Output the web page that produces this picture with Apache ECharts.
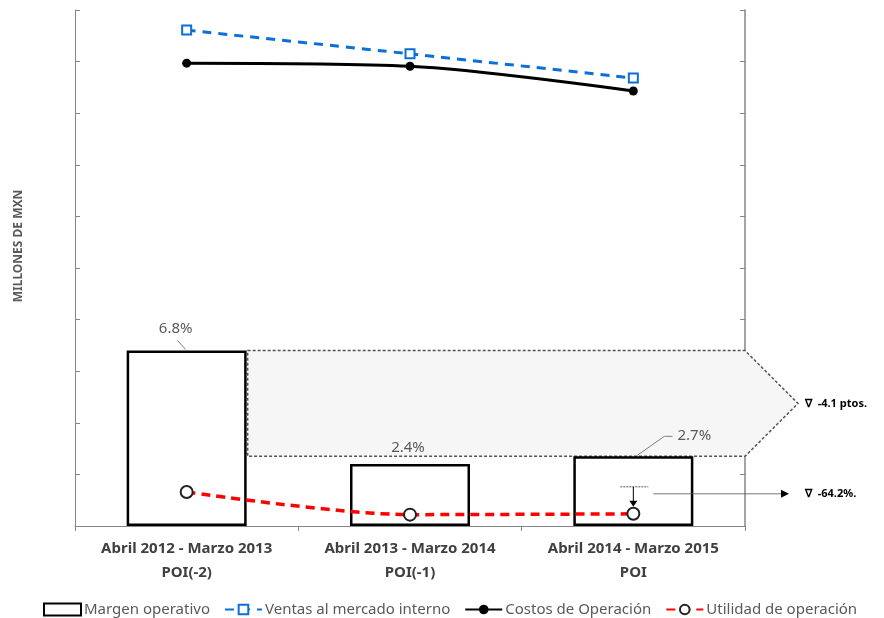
<!DOCTYPE html>
<html>
<head>
<meta charset="utf-8">
<script src="https://cdn.jsdelivr.net/npm/echarts@6/dist/echarts.min.js"></script>
<style>
  html, body { margin: 0; padding: 0; background: #fff; }
  #chart { width: 884px; height: 618px; }
</style>
</head>
<body>
<div id="chart"></div>
<script>
// datos del gráfico
const categorias = [
  'Abril 2012 - Marzo 2013\nPOI(-2)',
  'Abril 2013 - Marzo 2014\nPOI(-1)',
  'Abril 2014 - Marzo 2015\nPOI'
];
const margen = [6.8, 2.4, 2.7];          // % (eje derecho)
const ventas = [9.61, 9.15, 8.68];       // millones (eje izquierdo, sin etiquetas)
const costos = [8.97, 8.91, 8.43];
const utilidad = [0.66, 0.22, 0.236];
const notas = ['\u2207  -4.1 ptos.', '\u2207  -64.2%.'];

const FONT = 'Noto Sans, sans-serif';
const BAR_W = 120;

const chart = echarts.init(document.getElementById('chart'), null, { renderer: 'canvas' });

const option = {
  backgroundColor: '#fff',
  animation: false,
  grid: { left: 75, right: 139, top: 10, bottom: 92 },
  legend: {
    left: 38,
    top: 597,
    width: 846,
    itemWidth: 37,
    itemHeight: 12,
    itemGap: 14,
    textStyle: { color: '#595959', fontSize: 15, fontFamily: FONT, padding: [0, 0, 0, -2] },
    data: [
      { name: 'Margen operativo', icon: 'rect' },
      'Ventas al mercado interno',
      'Costos de Operación',
      'Utilidad de operación'
    ]
  },
  xAxis: {
    type: 'category',
    data: categorias,
    boundaryGap: true,
    axisLine: { lineStyle: { color: '#868686', width: 1 } },
    axisTick: { show: true, length: 5, lineStyle: { color: '#868686' } },
    axisLabel: {
      color: '#404040', fontSize: 15, fontWeight: 'bold', fontFamily: FONT,
      lineHeight: 24, margin: 11
    },
    splitLine: { show: false }
  },
  yAxis: [
    {
      type: 'value', min: 0, max: 10, interval: 1, position: 'left',
      axisLine: { show: true, lineStyle: { color: '#868686' } },
      axisTick: { show: true, inside: true, length: 5, lineStyle: { color: '#868686' } },
      axisLabel: { show: false },
      splitLine: { show: false }
    },
    {
      type: 'value', min: 0, max: 20, interval: 2, position: 'right',
      axisLine: { show: true, lineStyle: { color: '#868686', width: 1.5 } },
      axisTick: { show: true, inside: true, length: 5, lineStyle: { color: '#868686' } },
      axisLabel: { show: false },
      splitLine: { show: false }
    }
  ],
  series: [
    {
      name: 'Margen operativo',
      type: 'bar',
      yAxisIndex: 1,
      barWidth: BAR_W,
      z: 2,
      itemStyle: { color: '#fff', borderColor: '#000', borderWidth: 2.5 },
      label: {
        show: true, position: 'top', formatter: '{c}%',
        color: '#595959', fontSize: 15, fontFamily: FONT
      },
      data: [
        { value: margen[0], label: { offset: [-11, -9] } },
        { value: margen[1], label: { offset: [-2, -4] } },
        { value: margen[2], label: { offset: [61, -8] } }
      ]
    },
    {
      name: 'Ventas al mercado interno',
      type: 'line',
      yAxisIndex: 0,
      z: 4,
      smooth: 0.2,
      symbol: 'emptyRect',
      symbolSize: 9,
      itemStyle: { color: '#0a6fd6', borderWidth: 2 },
      lineStyle: { color: '#0a6fd6', width: 3, type: [9, 7] },
      data: ventas
    },
    {
      name: 'Costos de Operación',
      type: 'line',
      yAxisIndex: 0,
      z: 4,
      smooth: 0.3,
      symbol: 'circle',
      symbolSize: 9,
      itemStyle: { color: '#000' },
      lineStyle: { color: '#000', width: 3 },
      data: costos
    },
    {
      name: 'Utilidad de operación',
      type: 'line',
      yAxisIndex: 0,
      z: 4,
      smooth: 0.3,
      symbol: 'emptyCircle',
      symbolSize: 12,
      itemStyle: { color: '#222', borderWidth: 1.5 },
      lineStyle: { color: '#ff0000', width: 3.5, type: [9, 6] },
      data: utilidad
    }
  ]
};

chart.setOption(option);

// anotaciones: flecha de diferencia, líneas guía y textos
function anotaciones() {
  const rect = chart.getModel().getComponent('grid').coordinateSystem.getRect();
  const gR = rect.x + rect.width;
  const p1 = chart.convertToPixel({ seriesIndex: 0 }, [0, margen[0]]);
  const p3 = chart.convertToPixel({ seriesIndex: 0 }, [2, margen[2]]);
  const u3 = chart.convertToPixel({ seriesIndex: 3 }, [2, utilidad[2]]);
  const barR = p1[0] + BAR_W / 2 + 1;
  const yMid = (p1[1] + p3[1]) / 2;
  const gris = '#555';

  const g = [];
  // flecha sombreada entre 6.8% y 2.7%
  g.push({
    type: 'polygon', z: 1,
    shape: { points: [[barR, p1[1]], [gR, p1[1]], [gR + 53, yMid], [gR, p3[1]], [barR, p3[1]]] },
    style: { fill: '#f6f6f6', stroke: gris, lineWidth: 1.5, lineDash: [3, 2] }
  });
  g.push({
    type: 'text', z: 10, x: gR + 60, y: yMid,
    style: { text: notas[0], fill: '#000', font: 'bold 11px ' + FONT, verticalAlign: 'middle' }
  });
  // líneas guía de etiquetas
  g.push({
    type: 'polyline', z: 10,
    shape: { points: [[p1[0] - 9, p1[1] - 10], [p1[0] - 1, p1[1] - 1]] },
    style: { stroke: '#7f7f7f', lineWidth: 1, fill: null }
  });
  g.push({
    type: 'polyline', z: 10,
    shape: { points: [[p3[0] + 4, p3[1] - 1], [p3[0] + 31, p3[1] - 20], [p3[0] + 39, p3[1] - 20]] },
    style: { stroke: '#7f7f7f', lineWidth: 1, fill: null }
  });
  // caída de la utilidad
  g.push({
    type: 'line', z: 10,
    shape: { x1: u3[0] - 13, y1: u3[1] - 27, x2: u3[0] + 15, y2: u3[1] - 27 },
    style: { stroke: gris, lineWidth: 1, lineDash: [2, 1] }
  });
  g.push({
    type: 'line', z: 10,
    shape: { x1: u3[0], y1: u3[1] - 27, x2: u3[0], y2: u3[1] - 12 },
    style: { stroke: '#000', lineWidth: 1 }
  });
  g.push({
    type: 'polygon', z: 10,
    shape: { points: [[u3[0] - 4, u3[1] - 13], [u3[0] + 4, u3[1] - 13], [u3[0], u3[1] - 7]] },
    style: { fill: '#000' }
  });
  g.push({
    type: 'line', z: 10,
    shape: { x1: u3[0] + 20, y1: u3[1] - 20, x2: gR + 36, y2: u3[1] - 20 },
    style: { stroke: gris, lineWidth: 0.8 }
  });
  g.push({
    type: 'polygon', z: 10,
    shape: { points: [[gR + 36, u3[1] - 24], [gR + 36, u3[1] - 16], [gR + 44, u3[1] - 20]] },
    style: { fill: '#000' }
  });
  g.push({
    type: 'text', z: 10, x: gR + 60, y: u3[1] - 20,
    style: { text: notas[1], fill: '#000', font: 'bold 11px ' + FONT, verticalAlign: 'middle' }
  });
  // título del eje
  g.push({
    type: 'text', z: 10, x: 19, y: 246, rotation: Math.PI / 2,
    style: {
      text: 'MILLONES DE MXN', fill: '#595959', font: 'bold 12px ' + FONT,
      align: 'center', verticalAlign: 'middle'
    }
  });
  chart.setOption({ graphic: g });
}

anotaciones();
</script>
</body>
</html>
